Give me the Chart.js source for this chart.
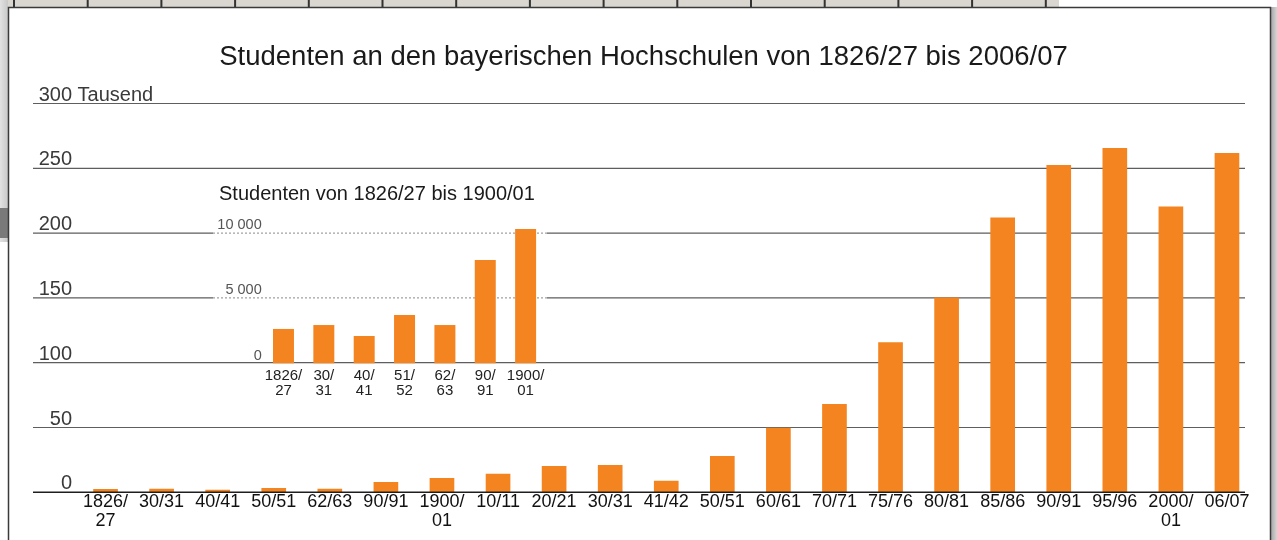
<!DOCTYPE html>
<html>
<head>
<meta charset="utf-8">
<script src="https://cdn.jsdelivr.net/npm/chart.js@4.4.1/dist/chart.umd.min.js"></script>
<style>
  html, body { margin: 0; padding: 0; background: #fff; }
  #wrap { position: relative; width: 1277px; height: 540px; overflow: hidden; }
  canvas { position: absolute; left: 0; top: 0; }
</style>
</head>
<body>
<div id="wrap">
  <canvas id="main" width="1277" height="540"></canvas>
  <canvas id="inset" width="1277" height="540"></canvas>
</div>
<script>
// ---------- data ----------
const titleText = 'Studenten an den bayerischen Hochschulen von 1826/27 bis 2006/07';
const categories = [['1826/','27'],['30/31'],['40/41'],['50/51'],['62/63'],['90/91'],['1900/','01'],['10/11'],['20/21'],['30/31'],['41/42'],['50/51'],['60/61'],['70/71'],['75/76'],['80/81'],['85/86'],['90/91'],['95/96'],['2000/','01'],['06/07']];
const students = [2.6, 2.7, 1.9, 3.4, 2.7, 8.0, 11.0, 14.4, 20.3, 21.1, 9.0, 28.0, 49.9, 68.2, 115.7, 150.4, 212.1, 252.6, 265.7, 220.6, 261.8];
const yTicks = [0, 50, 100, 150, 200, 250, 300];
const yUnit = 'Tausend';

const insetTitle = 'Studenten von 1826/27 bis 1900/01';
const insetCategories = [['1826/','27'],['30/','31'],['40/','41'],['51/','52'],['62/','63'],['90/','91'],['1900/','01']];
const insetStudents = [2630, 2930, 2090, 3700, 2930, 7910, 10280];
const insetTicks = [0, 5000, 10000];
const insetTickLabels = ['0', '5 000', '10 000'];

// ---------- style ----------
const ORANGE = '#f4841f';
const FONT = '"Liberation Sans", Arial, Helvetica, sans-serif';
const GRID_L = 33, GRID_R = 1245;
const INSET_L = 213, INSET_R = 547;

const decorPlugin = {
  id: 'decor',
  beforeDraw(chart) {
    const c = chart.ctx;
    c.save();
    c.fillStyle = '#fff';
    c.fillRect(0, 0, chart.width, chart.height);
    // scanned remnants: top strip
    c.fillStyle = '#d9d7cf';
    c.fillRect(0, 0, 1059, 7);
    c.fillStyle = '#333';
    for (let x = 13; x < 1059; x += 73.7) c.fillRect(x, 0, 2, 7);
    // left strip
    const g = c.createLinearGradient(0, 0, 8, 0);
    g.addColorStop(0, '#e2e2e2'); g.addColorStop(1, '#c8c8c8');
    c.fillStyle = g;
    c.fillRect(0, 0, 8, 242);
    c.fillStyle = '#7a7a7a';
    c.fillRect(0, 208, 8, 30);
    // right strip
    const g2 = c.createLinearGradient(1271, 0, 1277, 0);
    g2.addColorStop(0, '#a8a8a8'); g2.addColorStop(1, '#d6d6d6');
    c.fillStyle = g2;
    c.fillRect(1271, 0, 6, 540);
    c.fillStyle = '#fff';
    c.fillRect(1271, 0, 6, 7);
    // frame
    c.strokeStyle = '#3a3a3a';
    c.lineWidth = 1.5;
    c.beginPath();
    c.moveTo(8.5, 540); c.lineTo(8.5, 7.5); c.lineTo(1270.5, 7.5); c.lineTo(1270.5, 540);
    c.stroke();
    // title
    c.fillStyle = '#1a1a1a';
    c.font = '27.5px ' + FONT;
    c.textAlign = 'center';
    c.textBaseline = 'alphabetic';
    c.fillText(titleText, 643.5, 65);
    c.restore();
  },
  beforeDatasetsDraw(chart) {
    const c = chart.ctx, y = chart.scales.y;
    c.save();
    c.lineWidth = 1.2;
    c.strokeStyle = '#5e5e5e';
    yTicks.forEach(v => {
      if (v === 0) return;
      const py = y.getPixelForValue(v);
      const inInset = insetTicks.some(t => t > 0 && Math.abs(chart.$insetY(t) - py) < 2);
      c.setLineDash([]);
      c.beginPath();
      if (inInset) {
        c.moveTo(GRID_L, py); c.lineTo(INSET_L, py);
        c.moveTo(INSET_R, py); c.lineTo(GRID_R, py);
        c.stroke();
        c.strokeStyle = '#8a8a8a';
        c.lineWidth = 1;
        c.setLineDash([2, 2]);
        c.beginPath();
        c.moveTo(INSET_L, py); c.lineTo(INSET_R, py);
        c.stroke();
        c.strokeStyle = '#5e5e5e';
        c.lineWidth = 1.2;
      } else {
        c.moveTo(GRID_L, py); c.lineTo(GRID_R, py);
        c.stroke();
      }
    });
    c.setLineDash([]);
    // y labels
    c.fillStyle = '#3a3a3a';
    c.font = '20px ' + FONT;
    c.textBaseline = 'alphabetic';
    yTicks.forEach(v => {
      const py = y.getPixelForValue(v);
      c.textAlign = 'right';
      c.fillText(String(v), 72, py - 3);
      if (v === yTicks[yTicks.length - 1]) {
        c.textAlign = 'left';
        c.fillText(' ' + yUnit, 72, py - 3);
      }
    });
    c.restore();
  },
  afterDatasetsDraw(chart) {
    const c = chart.ctx, x = chart.scales.x, y = chart.scales.y;
    c.save();
    const py = y.getPixelForValue(0);
    c.strokeStyle = '#1e1e1e';
    c.lineWidth = 1.5;
    c.beginPath();
    c.moveTo(GRID_L, py); c.lineTo(GRID_R, py);
    c.stroke();
    // x labels
    c.fillStyle = '#111';
    c.font = '18px ' + FONT;
    c.textAlign = 'center';
    c.textBaseline = 'alphabetic';
    categories.forEach((lab, i) => {
      const px = x.getPixelForValue(i);
      lab.forEach((line, k) => c.fillText(line, px, py + 15 + k * 18.4));
    });
    c.restore();
  }
};

const insetPlugin = {
  id: 'insetDecor',
  afterDatasetsDraw(chart) {
    const c = chart.ctx, x = chart.scales.x, y = chart.scales.y;
    c.save();
    c.fillStyle = '#1a1a1a';
    c.font = '20px ' + FONT;
    c.textAlign = 'left';
    c.textBaseline = 'alphabetic';
    c.fillText(insetTitle, 219, 200);
    c.fillStyle = '#555';
    c.font = '14.5px ' + FONT;
    c.textAlign = 'right';
    insetTicks.forEach((v, i) => {
      c.fillText(insetTickLabels[i], 261.7, y.getPixelForValue(v) - 3.7);
    });
    c.fillStyle = '#222';
    c.font = '15px ' + FONT;
    c.textAlign = 'center';
    const base = y.getPixelForValue(0);
    insetCategories.forEach((lab, i) => {
      const px = x.getPixelForValue(i);
      lab.forEach((line, k) => c.fillText(line, px, base + 17 + k * 14.5));
    });
    c.restore();
  }
};

const commonOpts = (padding, max, barPct) => ({
  responsive: false,
  animation: false,
  events: [],
  layout: { padding },
  plugins: { legend: { display: false }, tooltip: { enabled: false }, title: { display: false } },
  scales: {
    x: { display: false, grid: { display: false } },
    y: { display: false, min: 0, max, grid: { display: false } }
  },
  datasets: { bar: { categoryPercentage: 1, barPercentage: barPct } }
});

const insetChart = new Chart(document.getElementById('inset'), {
  type: 'bar',
  data: {
    labels: insetCategories.map(l => l.join('')),
    datasets: [{ data: insetStudents, backgroundColor: ORANGE, borderWidth: 0, clip: false }]
  },
  options: commonOpts({ left: 263.3, right: 1277 - 545.8, top: 232.7, bottom: 540 - 363.3 }, 10000, 0.52),
  plugins: [insetPlugin]
});

const mainCanvas = document.getElementById('main');
const mainChart = new Chart(mainCanvas, {
  type: 'bar',
  data: {
    labels: categories.map(l => l.join('')),
    datasets: [{ data: students, backgroundColor: ORANGE, borderWidth: 0 }]
  },
  options: commonOpts({ left: 77.5, right: 1277 - 1255, top: 103.5, bottom: 540 - 492.3 }, 300, 0.44),
  plugins: [{ id: 'link', beforeInit(ch) { ch.$insetY = v => insetChart.scales.y.getPixelForValue(v); } }, decorPlugin]
});
</script>
</body>
</html>
